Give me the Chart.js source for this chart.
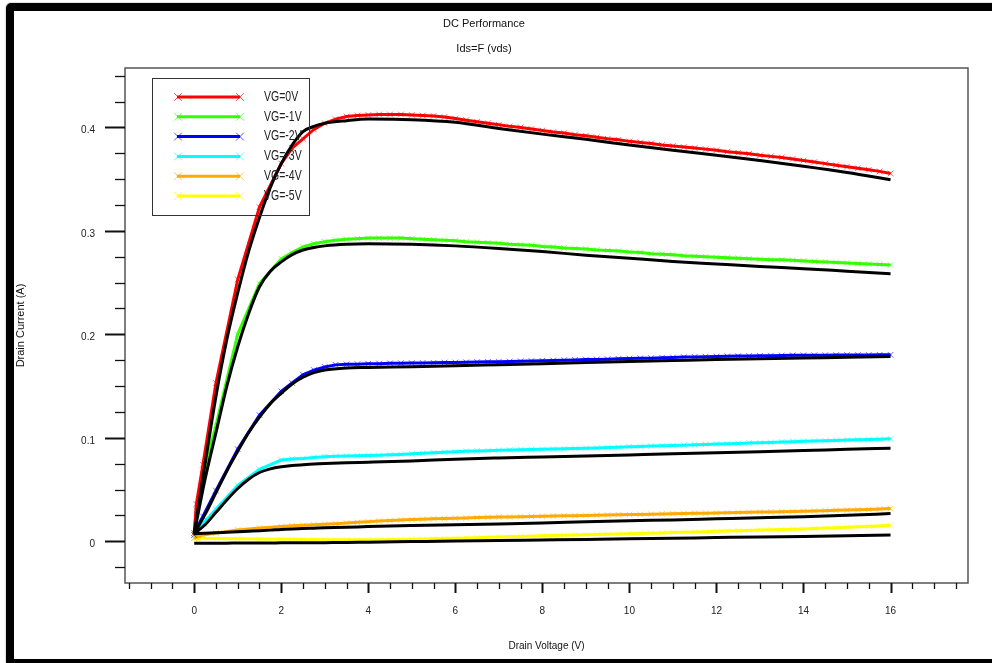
<!DOCTYPE html>
<html lang="en">
<head>
    <meta charset="UTF-8">
    <title>DC Performance</title>
    <style>
        body {
            margin: 0;
            background-color: #fff;
            font-family: 'Liberation Sans', Arial, sans-serif;
        }
        .frame {
            position: absolute;
            left: 6px;
            top: 3px;
            width: 1000px;
            height: 648px;
            border: 8px solid #000;
            border-radius: 5px;
            box-shadow: 0 0 2px rgba(0, 0, 0, 0.4);
        }
        .chart-container {
            position: absolute;
            left: 0;
            top: 0;
            width: 992px;
            height: 663px;
        }
    </style>
</head>
<body>

<div class="frame"></div>
<div class="chart-container">
    <canvas id="dcChart"></canvas>
</div>

<script src="https://cdn.jsdelivr.net/npm/chart.js"></script>
<script>
    // measured drain current, VG = 0 .. -5 V
    const vdsMeas = [0, 0.05, 0.2, 0.5, 1, 1.5, 2, 2.25, 2.5, 2.75, 3, 3.25, 3.5, 3.75, 4,
        4.25, 4.5, 4.75, 5, 5.25, 5.5, 5.75, 6, 6.25, 6.5, 6.75, 7, 7.25, 7.5, 7.75, 8,
        8.25, 8.5, 8.75, 9, 9.25, 9.5, 9.75, 10, 10.25, 10.5, 10.75, 11, 11.25, 11.5, 11.75, 12,
        12.25, 12.5, 12.75, 13, 13.25, 13.5, 13.75, 14, 14.25, 14.5, 14.75, 15, 15.25, 15.5, 15.75, 16];

    const idsVg0 = [0.008, 0.036, 0.074, 0.153, 0.253, 0.323, 0.365,
        0.38, 0.389, 0.398, 0.404, 0.408, 0.4105, 0.4115, 0.412,
        0.4125, 0.4125, 0.4125, 0.412, 0.4115, 0.411, 0.41, 0.4085, 0.407, 0.4055, 0.404, 0.4025,
        0.401, 0.4, 0.3985, 0.397, 0.3955, 0.3945, 0.393, 0.392, 0.3905, 0.389, 0.388, 0.3865,
        0.3855, 0.3845, 0.383, 0.382, 0.381, 0.38, 0.379, 0.378,
        0.3765, 0.3755, 0.3745, 0.373, 0.372, 0.371, 0.3695, 0.368,
        0.3665, 0.365, 0.3635, 0.362, 0.3605, 0.359, 0.3575, 0.3555];
    const idsVg1 = [0.008, 0.03, 0.065, 0.112, 0.2, 0.249, 0.273,
        0.279, 0.2845, 0.2875, 0.2895, 0.291, 0.292, 0.2925, 0.293,
        0.293, 0.293, 0.293, 0.2925, 0.292, 0.2915, 0.291, 0.2905, 0.2895, 0.289, 0.2885, 0.288,
        0.287, 0.2865, 0.286, 0.285, 0.2845, 0.2835, 0.283, 0.2825, 0.2815, 0.281, 0.2805, 0.2795,
        0.279, 0.278, 0.2775, 0.277, 0.276, 0.2755, 0.275, 0.2745,
        0.274, 0.2735, 0.273, 0.2725, 0.2722, 0.272, 0.2715, 0.271,
        0.2705, 0.27, 0.2695, 0.269, 0.2685, 0.268, 0.2675, 0.267];
    const idsVg2 = [0.006, 0.012, 0.024, 0.049, 0.089, 0.122, 0.145,
        0.153, 0.161, 0.1655, 0.1685, 0.1705, 0.171, 0.1712, 0.1715,
        0.1717, 0.172, 0.1721, 0.1722, 0.1724, 0.1725, 0.1727, 0.1728, 0.173, 0.1732, 0.1734, 0.1736,
        0.1738, 0.174, 0.1742, 0.1745, 0.1748, 0.175, 0.1753, 0.1756, 0.1758, 0.176, 0.1763, 0.1766,
        0.1768, 0.177, 0.1774, 0.1777, 0.178, 0.1782, 0.1784, 0.1786,
        0.1788, 0.179, 0.1791, 0.1792, 0.1794, 0.1796, 0.1797, 0.1798,
        0.1798, 0.1799, 0.18, 0.18, 0.18, 0.1801, 0.1802, 0.1802];
    const idsVg3 = [0.006, 0.009, 0.017, 0.031, 0.054, 0.0695, 0.0785,
        0.0795, 0.08, 0.081, 0.0818, 0.0822, 0.0825, 0.0827, 0.083,
        0.0832, 0.0836, 0.084, 0.0845, 0.085, 0.0855, 0.086, 0.0865, 0.087, 0.0873, 0.0876, 0.0879,
        0.0882, 0.0885, 0.0888, 0.089, 0.0892, 0.0894, 0.0896, 0.0899, 0.0902, 0.0906, 0.091, 0.0913,
        0.0916, 0.092, 0.0923, 0.0926, 0.0929, 0.0933, 0.0936, 0.094,
        0.0943, 0.0946, 0.095, 0.0953, 0.0956, 0.096, 0.0963, 0.0966,
        0.0969, 0.0972, 0.0975, 0.0978, 0.0981, 0.0984, 0.0987, 0.099];
    const idsVg4 = [0.003, 0.004, 0.006, 0.008, 0.011, 0.0128, 0.0143,
        0.015, 0.0155, 0.016, 0.0165, 0.017, 0.0177, 0.0183, 0.0188,
        0.0195, 0.02, 0.0205, 0.021, 0.0213, 0.0217, 0.022, 0.0223, 0.0226, 0.0229, 0.0232, 0.0234,
        0.0236, 0.0238, 0.024, 0.0242, 0.0244, 0.0246, 0.0248, 0.025, 0.0252, 0.0254, 0.0256, 0.0258,
        0.026, 0.0262, 0.0264, 0.0266, 0.0268, 0.027, 0.0272, 0.0274,
        0.0276, 0.0278, 0.028, 0.0282, 0.0284, 0.0286, 0.0288, 0.029,
        0.0293, 0.0296, 0.0299, 0.0302, 0.0305, 0.0308, 0.0312, 0.0316];
    const idsVg5 = [0.003, 0.003, 0.003, 0.0028, 0.0025, 0.0022, 0.002,
        0.0019, 0.0018, 0.0017, 0.0016, 0.0015, 0.0015, 0.0015, 0.0015,
        0.0016, 0.0017, 0.0018, 0.002, 0.0022, 0.0024, 0.0026, 0.0029, 0.0032, 0.0035, 0.0038, 0.0041,
        0.0044, 0.0047, 0.005, 0.0053, 0.0056, 0.0059, 0.0062, 0.0064, 0.0066, 0.0069, 0.0071, 0.0074,
        0.0076, 0.0079, 0.0081, 0.0084, 0.0087, 0.009, 0.0093, 0.0096,
        0.0099, 0.0102, 0.0105, 0.0108, 0.0111, 0.0114, 0.0117, 0.012,
        0.0124, 0.0128, 0.0132, 0.0136, 0.014, 0.0144, 0.0149, 0.0155];

    // simulated curves (black)
    const vdsSim = [0, 0.25, 0.5, 0.75, 1, 1.25, 1.5, 1.75, 2, 2.25, 2.5, 2.75, 3, 3.5, 4,
        5, 6, 7, 8, 9, 10, 11, 12, 13, 14, 15, 16];
    const simVg0 = [0.0075, 0.075, 0.14, 0.195, 0.24, 0.28, 0.313, 0.342, 0.365, 0.383, 0.396, 0.401, 0.404, 0.4065, 0.408,
        0.4075, 0.405, 0.399, 0.3935, 0.3885, 0.383, 0.378, 0.373, 0.368, 0.3625, 0.3565, 0.3495];
    const simVg1 = [0.0075, 0.06, 0.105, 0.15, 0.188, 0.22, 0.246, 0.261, 0.27, 0.277, 0.2815, 0.284, 0.2855, 0.287, 0.2875,
        0.287, 0.2855, 0.283, 0.28, 0.2765, 0.2735, 0.2705, 0.268, 0.2655, 0.2635, 0.261, 0.2585];
    const simVg2 = [0.0075, 0.026, 0.047, 0.068, 0.087, 0.105, 0.12, 0.133, 0.143, 0.152, 0.1585, 0.163, 0.1655, 0.1675, 0.168,
        0.1688, 0.1697, 0.1707, 0.1717, 0.1727, 0.1737, 0.1747, 0.1757, 0.1765, 0.1772, 0.1778, 0.1785];
    const simVg3 = [0.0075, 0.016, 0.028, 0.04, 0.051, 0.06, 0.0665, 0.07, 0.072, 0.0732, 0.074, 0.0747, 0.0752, 0.0759, 0.0764,
        0.0776, 0.0793, 0.0805, 0.0815, 0.0825, 0.0835, 0.0845, 0.0856, 0.0866, 0.0877, 0.0889, 0.09];
    const simVg4 = [0.0075, 0.0078, 0.0082, 0.0087, 0.0092, 0.0097, 0.0102, 0.0108, 0.0115, 0.012, 0.0124, 0.0127, 0.013, 0.0135, 0.0142,
        0.0152, 0.016, 0.0168, 0.0177, 0.0188, 0.0198, 0.0207, 0.0217, 0.0227, 0.0238, 0.0252, 0.0268];
    const simVg5 = [-0.002, -0.0019, -0.0018, -0.0018, -0.0017, -0.0017, -0.0016, -0.0016, -0.0015, -0.0015, -0.0014, -0.0014, -0.0013, -0.0011, -0.0008,
        -0.0003, 0.0002, 0.0008, 0.0013, 0.0018, 0.0024, 0.003, 0.0036, 0.0042, 0.0047, 0.0053, 0.006];

    const seriesLabels = ['VG=0V', 'VG=-1V', 'VG=-2V', 'VG=-3V', 'VG=-4V', 'VG=-5V'];
    const seriesColors = ['#ff0000', '#33ff00', '#0000ff', '#00ffff', '#ffaa00', '#ffff00'];
    const measured = [idsVg0, idsVg1, idsVg2, idsVg3, idsVg4, idsVg5];
    const simulated = [simVg0, simVg1, simVg2, simVg3, simVg4, simVg5];

    // axis ticks
    const xLabelTicks = [0, 2, 4, 6, 8, 10, 12, 14, 16];
    const yLabelTicks = [0, 0.1, 0.2, 0.3, 0.4];
    const xMinorStep = 0.5, yMinorStep = 0.025;
    const xRange = [-1.59, 17.78], yRange = [-0.0403, 0.4574];

    const FONT = "'Liberation Sans', Arial, sans-serif";
    const NARROW = "'Liberation Sans Narrow', 'Liberation Sans', Arial, sans-serif";

    function isLabelTick(list, v) {
        return list.some(t => Math.abs(t - v) < 1e-6);
    }
    function tickValues(min, max, step) {
        const out = [];
        for (let k = Math.ceil(min / step); k * step <= max + 1e-9; k++) out.push({ value: +(k * step).toFixed(4) });
        return out;
    }

    // tick marks and plot frame
    const axisPlugin = {
        id: 'axisMarks',
        afterDatasetsDraw(chart) {
            const { ctx, chartArea: a, scales: { x, y } } = chart;
            ctx.save();
            ctx.strokeStyle = '#555';
            ctx.lineWidth = 1.5;
            ctx.strokeRect(a.left, a.top, a.right - a.left, a.bottom - a.top);
            ctx.strokeStyle = '#111';
            x.ticks.forEach(t => {
                const major = isLabelTick(xLabelTicks, t.value);
                const px = Math.round(x.getPixelForValue(t.value)) + 0.5;
                ctx.lineWidth = major ? 2 : 1.3;
                ctx.beginPath();
                ctx.moveTo(px, a.bottom);
                ctx.lineTo(px, a.bottom + (major ? 10 : 6));
                ctx.stroke();
            });
            y.ticks.forEach(t => {
                const major = isLabelTick(yLabelTicks, t.value);
                const py = Math.round(y.getPixelForValue(t.value)) + 0.5;
                ctx.lineWidth = major ? 2 : 1.3;
                ctx.beginPath();
                ctx.moveTo(a.left, py);
                ctx.lineTo(a.left - (major ? 20 : 10), py);
                ctx.stroke();
            });
            ctx.restore();
        }
    };

    // boxed legend inside the plot
    const legendPlugin = {
        id: 'boxLegend',
        afterDraw(chart, args, opts) {
            const ctx = chart.ctx;
            ctx.save();
            ctx.strokeStyle = '#333';
            ctx.lineWidth = 1;
            ctx.strokeRect(opts.left + 0.5, opts.top + 0.5, opts.width, opts.height);
            seriesLabels.forEach((label, i) => {
                const yy = opts.firstRow + i * opts.rowGap;
                ctx.strokeStyle = seriesColors[i];
                ctx.lineWidth = 3;
                ctx.beginPath();
                ctx.moveTo(opts.lineStart + 2, yy);
                ctx.lineTo(opts.lineEnd - 3, yy);
                ctx.stroke();
                ctx.lineWidth = 1;
                ctx.strokeStyle = seriesColors[i] + 'aa';
                const pt = { pointStyle: 'crossRot', radius: 5.5, borderWidth: 1 };
                Chart.helpers.drawPoint(ctx, pt, opts.lineStart + 3, yy);
                Chart.helpers.drawPoint(ctx, pt, opts.lineEnd - 3, yy);
                ctx.save();
                ctx.translate(opts.textX, yy);
                ctx.scale(0.75, 1);
                ctx.fillStyle = '#222';
                ctx.font = '14px ' + FONT;
                ctx.textBaseline = 'middle';
                ctx.fillText(label, 0, 0);
                ctx.restore();
            });
            ctx.restore();
        }
    };

    const datasets = [];
    simulated.forEach((vals, i) => {
        datasets.push({
            label: 'sim ' + seriesLabels[i],
            data: vdsSim.map((v, k) => ({ x: v, y: vals[k] })),
            borderColor: '#000',
            borderWidth: 3,
            pointRadius: 0,
            cubicInterpolationMode: 'monotone',
            fill: false
        });
    });
    measured.forEach((vals, i) => {
        datasets.push({
            label: seriesLabels[i],
            data: vdsMeas.map((v, k) => ({ x: v, y: vals[k] })),
            borderColor: seriesColors[i],
            backgroundColor: seriesColors[i],
            borderWidth: 3,
            pointStyle: 'crossRot',
            pointRadius: 4,
            pointBorderWidth: 1,
            pointBorderColor: seriesColors[i] + '99',
            tension: 0,
            fill: false
        });
    });

    const ctx = document.getElementById('dcChart').getContext('2d');
    new Chart(ctx, {
        type: 'line',
        data: { datasets: datasets },
        options: {
            responsive: true,
            maintainAspectRatio: false,
            animation: false,
            layout: { padding: { left: 0, right: 24, top: 0, bottom: 0 } },
            plugins: {
                legend: { display: false },
                tooltip: { enabled: false },
                title: {
                    display: true,
                    text: 'DC Performance',
                    color: '#111',
                    font: { family: FONT, size: 11, weight: 'normal' },
                    padding: { top: 17, bottom: 5 }
                },
                subtitle: {
                    display: true,
                    text: 'Ids=F (vds)',
                    color: '#111',
                    font: { family: FONT, size: 11, weight: 'normal' },
                    padding: { top: 7, bottom: 12.6 }
                },
                boxLegend: {
                    left: 152, top: 78, width: 157, height: 137,
                    lineStart: 175, lineEnd: 243, textX: 264,
                    firstRow: 97, rowGap: 19.8
                }
            },
            scales: {
                x: {
                    type: 'linear',
                    min: xRange[0],
                    max: xRange[1],
                    afterBuildTicks: s => { s.ticks = tickValues(xRange[0], xRange[1], xMinorStep); },
                    afterFit: s => { s.height = 80; },
                    grid: { display: false, drawTicks: false },
                    border: { display: false },
                    ticks: {
                        autoSkip: false,
                        maxRotation: 0,
                        padding: 22,
                        color: '#222',
                        font: { family: NARROW, size: 10 },
                        callback: v => isLabelTick(xLabelTicks, v) ? String(Math.round(v)) : ''
                    },
                    title: {
                        display: true,
                        text: 'Drain Voltage (V)',
                        color: '#111',
                        font: { family: FONT, size: 10 },
                        padding: { top: 4, bottom: 11 }
                    }
                },
                y: {
                    min: yRange[0],
                    max: yRange[1],
                    afterBuildTicks: s => { s.ticks = tickValues(yRange[0], yRange[1], yMinorStep); },
                    afterFit: s => { s.width = 125; },
                    grid: { display: false, drawTicks: false },
                    border: { display: false },
                    ticks: {
                        autoSkip: false,
                        padding: 30,
                        labelOffset: 3,
                        color: '#222',
                        font: { family: NARROW, size: 10 },
                        callback: v => isLabelTick(yLabelTicks, v) ? (Math.abs(v) < 1e-9 ? '0' : v.toFixed(1)) : ''
                    },
                    title: {
                        display: true,
                        text: 'Drain Current (A)',
                        color: '#111',
                        font: { family: FONT, size: 11 },
                        padding: { top: 14, bottom: 4 }
                    }
                }
            }
        },
        plugins: [axisPlugin, legendPlugin]
    });
</script>

</body>
</html>
